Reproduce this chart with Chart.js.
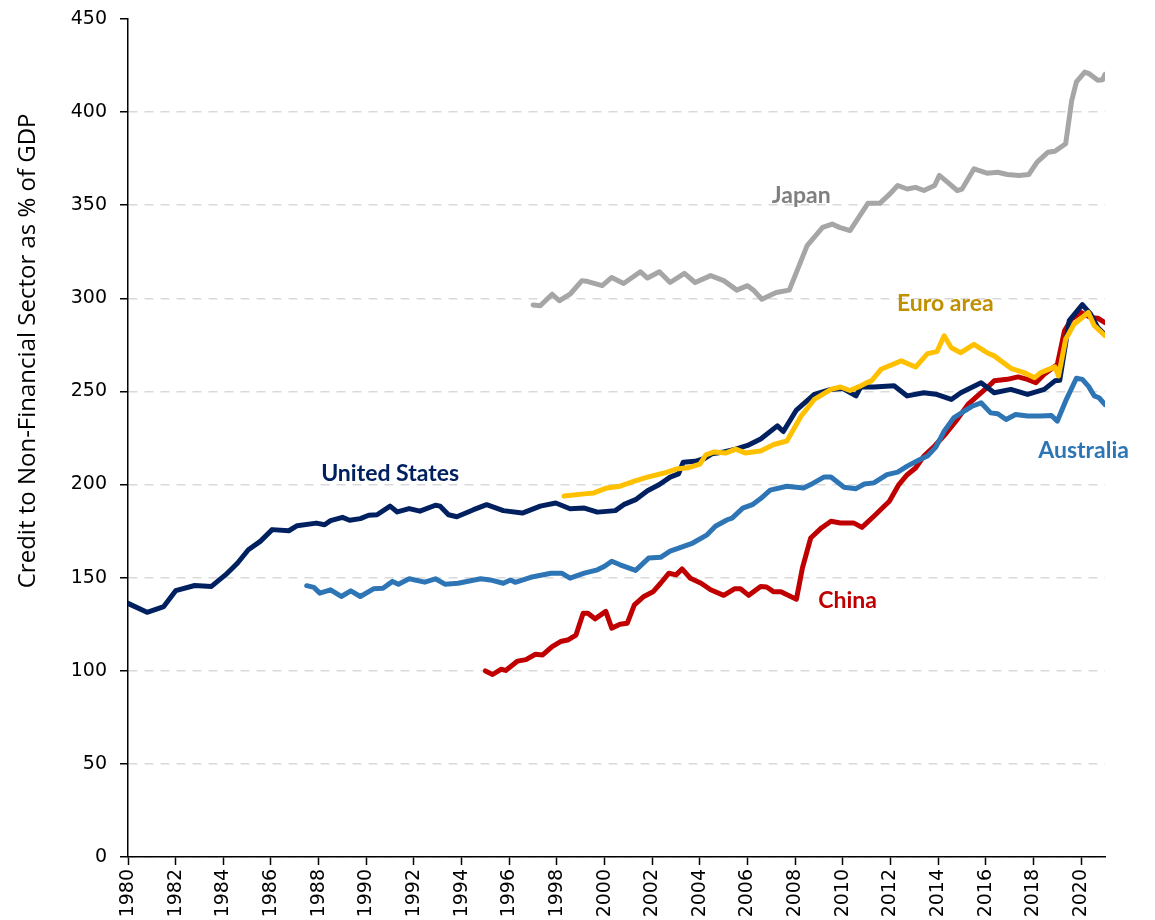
<!DOCTYPE html>
<html>
<head>
<meta charset="utf-8">
<script src="https://cdn.jsdelivr.net/npm/chart.js@4.4.1/dist/chart.umd.min.js"></script>
<style>
  body { margin: 0; background: #fff; }
  #wrap { width: 1155px; height: 920px; position: relative; }
</style>
</head>
<body>
<div id="wrap"><canvas id="debt"></canvas></div>
<script>
////////////////// Data ///////////////////////

const xTicks = [1980, 1982, 1984, 1986, 1988, 1990, 1992, 1994, 1996, 1998, 2000,
  2002, 2004, 2006, 2008, 2010, 2012, 2014, 2016, 2018, 2020];

const usYears = [1980.0, 1980.8, 1981.5, 1982.0, 1982.8, 1983.5, 1984.1, 1984.6, 1985.05, 1985.55,
  1986.05, 1986.75, 1987.1, 1987.9, 1988.25, 1988.5, 1989.0, 1989.3, 1989.75, 1990.1,
  1990.45, 1991.0, 1991.3, 1991.8, 1992.25, 1992.9, 1993.1, 1993.45, 1993.8, 1994.5,
  1995.05, 1995.75, 1996.55, 1997.3, 1997.95, 1998.55, 1999.15, 1999.7, 2000.45, 2000.8,
  2001.3, 2001.8, 2002.3, 2002.75, 2003.1, 2003.3, 2003.8, 2004.2, 2004.5, 2005.0,
  2005.5, 2006.0, 2006.55, 2007.25, 2007.5, 2008.05, 2008.8, 2009.5, 2010.0, 2010.55,
  2010.75, 2011.3, 2012.15, 2012.7, 2013.4, 2013.9, 2014.55, 2014.95, 2015.8, 2016.35,
  2017.05, 2017.75, 2018.45, 2018.9, 2019.1, 2019.5, 2020.05, 2020.4, 2020.7, 2021.0];
const usValues = [136.2, 131.4, 134.5, 143, 145.8, 145.3, 151.6, 157.9, 165, 169.5,
  175.8, 175.2, 177.9, 179.3, 178.4, 180.6, 182.4, 180.8, 181.7, 183.5,
  183.8, 188.4, 185.3, 187.1, 185.7, 188.9, 188.4, 183.8, 182.7, 186.5,
  189.2, 186, 184.7, 188.4, 190.1, 187, 187.4, 185.2, 186, 189.2,
  191.9, 196.7, 200, 204, 205.7, 212, 212.5, 214, 216.5, 217.5,
  219, 221, 224.5, 231.5, 228.5, 240, 248.4, 251.1, 251.6, 247.6,
  252.4, 252.4, 253, 247.6, 249.3, 248.5, 245.7, 249.3, 254.7, 249.3,
  251.1, 248.4, 251.1, 255.7, 256, 288, 296.6, 291.5, 284.3, 280.5];

const euroYears = [1998.3, 1999.15, 1999.55, 2000.1, 2000.65, 2001.25, 2001.8, 2002.5, 2003.0, 2003.5,
  2004.0, 2004.25, 2004.6, 2005.1, 2005.5, 2005.9, 2006.55, 2007.1, 2007.65, 2008.25,
  2008.8, 2009.5, 2009.9, 2010.3, 2010.75, 2011.0, 2011.2, 2011.6, 2012.45, 2013.05,
  2013.55, 2013.95, 2014.25, 2014.55, 2014.95, 2015.5, 2016.05, 2016.35, 2017.05, 2017.6,
  2018.05, 2018.3, 2018.9, 2019.05, 2019.35, 2019.7, 2020.3, 2020.55, 2021.0];
const euroValues = [193.8, 195, 195.5, 198.2, 199.1, 201.8, 204, 206.2, 208.3, 209,
  211, 216, 217.5, 217, 219, 217, 218, 221.5, 223.4, 236.8,
  245.7, 251.1, 252.4, 250.5, 253, 254.7, 255.7, 261.9, 266.4, 263.1,
  270.3, 271.4, 279.9, 273.5, 270.8, 275.3, 270.8, 269.1, 262.4, 260.1,
  257.4, 260.1, 263.2, 258.3, 278, 286.1, 292.4, 285.3, 280];

const japanYears = [1997.0, 1997.3, 1997.8, 1998.1, 1998.55, 1999.05, 1999.3, 1999.9, 2000.3, 2000.8,
  2001.5, 2001.8, 2002.3, 2002.75, 2003.35, 2003.8, 2004.45, 2005.0, 2005.55, 2006.0,
  2006.25, 2006.6, 2007.2, 2007.75, 2008.5, 2009.15, 2009.55, 2009.85, 2010.3, 2011.05,
  2011.55, 2011.95, 2012.3, 2012.7, 2013.05, 2013.4, 2013.85, 2014.05, 2014.4, 2014.8,
  2015.0, 2015.5, 2016.05, 2016.5, 2016.9, 2017.4, 2017.8, 2018.15, 2018.6, 2018.9,
  2019.35, 2019.6, 2019.8, 2020.15, 2020.35, 2020.7, 2020.9, 2021.0];
const japanValues = [296.4, 296, 302.2, 298.7, 302.2, 309.5, 309, 306.8, 311.2, 308,
  314.3, 310.9, 314.3, 308.5, 313.4, 308.5, 312.2, 309.5, 304.4, 306.8,
  304.4, 299.5, 303.1, 304.4, 328.3, 338.1, 339.9, 338.1, 336.4, 351,
  351, 355.8, 360.6, 358.7, 359.6, 357.9, 360.6, 366, 362.3, 357.9,
  358.7, 369.5, 367.2, 367.7, 366.5, 366, 366.5, 373.1, 378.4, 379,
  383, 406, 416.2, 421.5, 420.5, 417.1, 417.4, 420.3];

const ausYears = [1987.5, 1987.8, 1988.05, 1988.5, 1988.95, 1989.35, 1989.75, 1990.3, 1990.7, 1991.1,
  1991.35, 1991.8, 1992.45, 1992.9, 1993.3, 1993.85, 1994.8, 1995.2, 1995.75, 1996.05,
  1996.25, 1996.9, 1997.75, 1998.2, 1998.55, 1999.15, 1999.7, 2000.0, 2000.3, 2000.65,
  2001.3, 2001.85, 2002.35, 2002.75, 2003.2, 2003.7, 2004.3, 2004.65, 2005.15, 2005.35,
  2005.8, 2006.2, 2006.55, 2006.95, 2007.65, 2008.35, 2008.65, 2009.2, 2009.5, 2010.05,
  2010.55, 2010.9, 2011.3, 2011.85, 2012.3, 2012.7, 2013.15, 2013.55, 2013.9, 2014.25,
  2014.65, 2015.1, 2015.45, 2015.8, 2016.2, 2016.5, 2016.85, 2017.25, 2017.75, 2018.3,
  2018.75, 2019.0, 2019.35, 2019.8, 2020.05, 2020.3, 2020.55, 2020.75, 2021.0];
const ausValues = [145.7, 144.8, 141.7, 143.5, 139.9, 142.9, 139.9, 144, 144.3, 148,
  146.5, 149.4, 147.6, 149.4, 146.5, 147, 149.4, 148.8, 147, 148.8,
  147.5, 150.2, 152.4, 152.4, 149.7, 152.4, 154.2, 156.1, 158.8, 156.9,
  153.9, 160.5, 160.9, 164.2, 166.3, 168.6, 173, 177.6, 181.1, 182,
  187.3, 189.2, 192.5, 197, 199.1, 198.2, 200, 204, 204, 198.6,
  197.8, 200.3, 200.9, 205.3, 206.7, 209.9, 212.9, 215.3, 220.1, 228.7,
  235.8, 239.5, 242.2, 243.9, 238.5, 238, 234.9, 237.6, 236.8, 236.8,
  237.1, 234.1, 244.9, 257.1, 256.5, 252.9, 247.6, 246.6, 243];

const chinaYears = [1995.0, 1995.3, 1995.65, 1995.85, 1996.35, 1996.7, 1997.1, 1997.4, 1997.8, 1998.15,
  1998.45, 1998.8, 1999.1, 1999.3, 1999.6, 2000.05, 2000.3, 2000.65, 2000.95, 2001.25,
  2001.65, 2002.05, 2002.35, 2002.7, 2003.0, 2003.25, 2003.6, 2004.05, 2004.45, 2005.0,
  2005.45, 2005.7, 2006.05, 2006.55, 2006.8, 2007.1, 2007.4, 2008.05, 2008.3, 2008.65,
  2009.1, 2009.5, 2009.9, 2010.45, 2010.8, 2011.3, 2011.95, 2012.35, 2012.7, 2013.05,
  2013.4, 2013.85, 2014.35, 2014.8, 2015.25, 2015.65, 2016.05, 2016.35, 2016.9, 2017.35,
  2017.75, 2018.1, 2018.45, 2019.0, 2019.3, 2019.6, 2020.0, 2020.4, 2020.7, 2021.0];
const chinaValues = [99.9, 98, 100.8, 100.2, 105.2, 106, 108.9, 108.5, 113, 115.7,
  116.5, 119.2, 130.9, 130.9, 127.9, 131.9, 122.9, 125, 125.5, 135.4,
  139.9, 142.6, 147, 152.4, 151.5, 154.7, 149.7, 147, 143.5, 140.5,
  144, 144, 140.5, 145.3, 145, 142.4, 142.4, 138.4, 155.1, 171.3,
  176.7, 180.3, 179.4, 179.4, 177, 183, 191, 200, 205.3, 208.9,
  215.3, 220.7, 227.8, 235, 243, 247.6, 252, 255.7, 256.5, 257.8,
  256.5, 254.7, 259.2, 264.5, 282.6, 289, 292.4, 289.7, 289.3, 287];

// label placement (year, value) for in-chart series names
const seriesLabels = [
  { text: "Japan", x: 2008.25, y: 355, color: "#7F7F7F" },
  { text: "Euro area", x: 2014.3, y: 297, color: "#BF9000" },
  { text: "United States", x: 1991.0, y: 206, color: "#002060" },
  { text: "Australia", x: 2020.1, y: 218.5, color: "#2E75B6" },
  { text: "China", x: 2010.2, y: 137.8, color: "#C00000" },
];

const toPoints = (xs, ys) => xs.map((x, i) => ({ x: x, y: ys[i] }));

////////////////// Plugins ///////////////////////

const seriesLabelPlugin = {
  id: "seriesLabels",
  afterDatasetsDraw(chart) {
    const { ctx, scales } = chart;
    ctx.save();
    ctx.font = "bold 23px Lato";
    ctx.textAlign = "center";
    ctx.textBaseline = "middle";
    seriesLabels.forEach((l) => {
      ctx.fillStyle = l.color;
      ctx.fillText(l.text, scales.x.getPixelForValue(l.x), scales.y.getPixelForValue(l.y));
    });
    ctx.restore();
  },
};

// y title sits above the middle of the axis in the original
const yTitlePlugin = {
  id: "yTitle",
  afterDraw(chart) {
    const { ctx, chartArea } = chart;
    const cy = chartArea.top + (chartArea.bottom - chartArea.top) * 0.396;
    ctx.save();
    ctx.translate(28, cy);
    ctx.rotate(-Math.PI / 2);
    ctx.font = "24px 'Open Sans'";
    ctx.fillStyle = "#000";
    ctx.textAlign = "center";
    ctx.textBaseline = "middle";
    ctx.fillText("Credit to Non-Financial Sector as % of GDP", 0, 0);
    ctx.restore();
  },
};

////////////////// Chart ///////////////////////

const lineSet = (label, xs, ys, color) => ({
  label: label,
  data: toPoints(xs, ys),
  borderColor: color,
  backgroundColor: color,
  borderWidth: 5,
  pointRadius: 0,
  tension: 0,
  borderCapStyle: "round",
  borderJoinStyle: "round",
});

const ctx = document.getElementById("debt");
const debtChart = new Chart(ctx, {
  type: "line",
  data: {
    datasets: [
      lineSet("Euro area", euroYears, euroValues, "#FFC000"),
      lineSet("Australia", ausYears, ausValues, "#2E75B6"),
      lineSet("United States", usYears, usValues, "#002060"),
      lineSet("China", chinaYears, chinaValues, "#C00000"),
      lineSet("Japan", japanYears, japanValues, "#A6A6A6"),
    ],
  },
  options: {
    responsive: true,
    maintainAspectRatio: false,
    animation: false,
    layout: { padding: { top: 19, right: 50, left: 0, bottom: 0 } },
    plugins: {
      legend: { display: false },
      tooltip: { enabled: false },
    },
    scales: {
      x: {
        type: "linear",
        min: 1980,
        max: 2021,
        afterBuildTicks: (scale) => {
          scale.ticks = xTicks.map((v) => ({ value: v }));
        },
        afterFit: (scale) => {
          scale.height = 63;
        },
        ticks: {
          minRotation: 90,
          maxRotation: 90,
          autoSkip: false,
          padding: 4,
          color: "#000",
          font: { family: "DejaVu Sans", size: 19 },
          callback: (v) => String(v),
        },
        grid: {
          drawOnChartArea: false,
          drawTicks: true,
          tickLength: 8,
          tickColor: "#000",
          tickWidth: 1.5,
        },
        border: { color: "#000", width: 1.5 },
      },
      y: {
        min: 0,
        max: 450,
        afterFit: (scale) => {
          scale.width = 128;
          scale.paddingTop = 0;
          scale.paddingBottom = 0;
        },
        ticks: {
          stepSize: 50,
          padding: 13,
          color: "#000",
          font: { family: "DejaVu Sans", size: 19 },
        },
        grid: {
          color: (c) => (c.tick && c.tick.value === 450 ? "rgba(0,0,0,0)" : "#D9D9D9"),
          lineWidth: 1.5,
          tickLength: 8,
          tickColor: "#000",
          tickWidth: 1.5,
        },
        border: { color: "#000", width: 1.5, dash: [9, 7] },
      },
    },
  },
  plugins: [seriesLabelPlugin, yTitlePlugin],
});
</script>
</body>
</html>
